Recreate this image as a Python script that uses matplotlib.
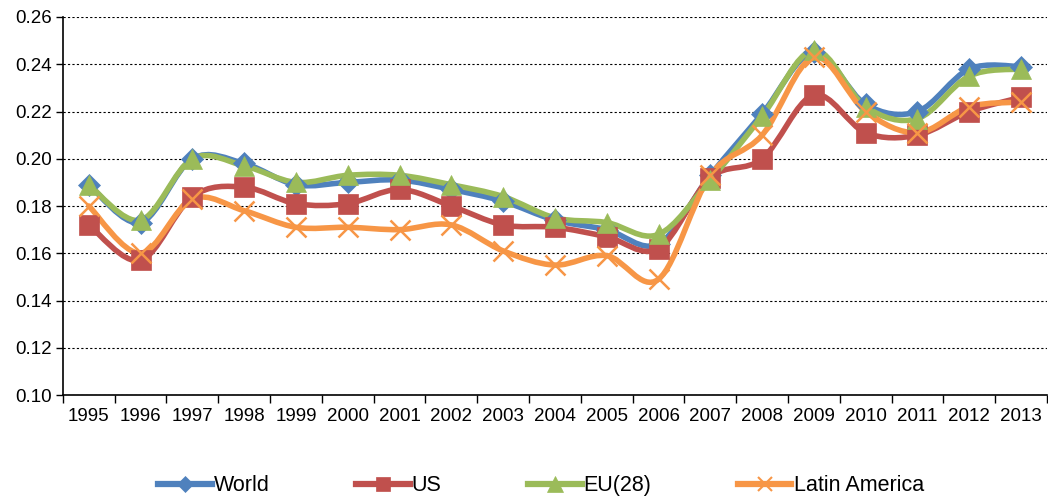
import numpy as np
import matplotlib
matplotlib.use("Agg")
import matplotlib.pyplot as plt
from matplotlib.path import Path
from matplotlib.patches import PathPatch
from matplotlib.lines import Line2D

years = [str(y) for y in range(1995, 2014)]

world = [0.189, 0.173, 0.200, 0.198, 0.189, 0.190, 0.191, 0.187, 0.182, 0.174,
         0.170, 0.164, 0.193, 0.219, 0.245, 0.223, 0.220, 0.238, 0.239]
us = [0.172, 0.157, 0.184, 0.188, 0.181, 0.181, 0.187, 0.180, 0.172, 0.171,
      0.167, 0.162, 0.192, 0.200, 0.227, 0.211, 0.210, 0.220, 0.226]
eu28 = [0.189, 0.174, 0.200, 0.197, 0.190, 0.193, 0.193, 0.189, 0.184, 0.175,
        0.173, 0.168, 0.191, 0.218, 0.246, 0.222, 0.217, 0.235, 0.238]
latam = [0.180, 0.160, 0.183, 0.178, 0.171, 0.171, 0.170, 0.172, 0.161, 0.155,
         0.159, 0.149, 0.193, 0.210, 0.243, 0.220, 0.211, 0.222, 0.224]

series = [
    ("World", world, "#4F81BD", "D", 11),
    ("US", us, "#C0504D", "s", 14),
    ("EU(28)", eu28, "#9BBB59", "^", 15),
    ("Latin America", latam, "#F79646", "x", 14),
]

plt.rcParams['font.family'] = ['Liberation Sans', 'DejaVu Sans']


def smooth_path(xs, ys):
    # Excel-style smoothed line: Catmull-Rom segments as cubic Beziers
    pts = np.column_stack([xs, ys])
    n = len(pts)
    verts = [pts[0]]
    codes = [Path.MOVETO]
    for i in range(n - 1):
        p0 = pts[i - 1] if i > 0 else pts[i]
        p1 = pts[i]
        p2 = pts[i + 1]
        p3 = pts[i + 2] if i + 2 < n else pts[i + 1]
        verts += [p1 + (p2 - p0) / 6, p2 - (p3 - p1) / 6, p2]
        codes += [Path.CURVE4] * 3
    return Path(verts, codes)


fig = plt.figure(figsize=(10.48, 4.97), dpi=100)
ax = fig.add_axes([0.060, 0.2052, 0.939, 0.7606])

x = np.arange(len(years))
for name, vals, color, marker, ms in series:
    ax.add_patch(PathPatch(smooth_path(x, vals), fill=False, edgecolor=color,
                           lw=4.0, capstyle='round', joinstyle='round'))
    ax.plot(x, vals, linestyle='none', marker=marker, markersize=ms,
            color=color, markeredgecolor=color, markeredgewidth=1.8 if marker == 'x' else 0.5)

ax.set_xlim(-0.5, len(years) - 0.5)
ax.set_ylim(0.10, 0.26)
ax.set_yticks(np.arange(0.10, 0.2601, 0.02))
ax.yaxis.set_major_formatter(matplotlib.ticker.FormatStrFormatter('%.2f'))
ax.set_xticks(x)
ax.set_xticklabels(years)
ax.set_xticks(np.arange(-0.5, len(years), 1.0), minor=True)
ax.tick_params(axis='x', which='major', length=0, pad=9, labelsize=13.5)
ax.tick_params(axis='x', which='minor', length=6, width=1, direction='out')
ax.tick_params(axis='y', length=5, width=1, labelsize=13.5, pad=3)

ax.grid(axis='y', color='black', linestyle=(0, (2, 2)), linewidth=0.8)
ax.set_axisbelow(True)
for side in ('top', 'right'):
    ax.spines[side].set_visible(False)
for side in ('left', 'bottom'):
    ax.spines[side].set_linewidth(1.2)

handles = [Line2D([], [], color=c, lw=4.5, marker=m, markersize=ms * 0.75,
                  markeredgewidth=1.5 if m == 'x' else 0.5)
           for _, _, c, m, ms in series]
fig.legend(handles, [s[0] for s in series], loc='center', bbox_to_anchor=(0.516, 0.023),
           ncol=4, frameon=False, fontsize=15.5, handlelength=2.5, handletextpad=0.1,
           columnspacing=4.0)

fig.savefig("out.png", dpi=100)
